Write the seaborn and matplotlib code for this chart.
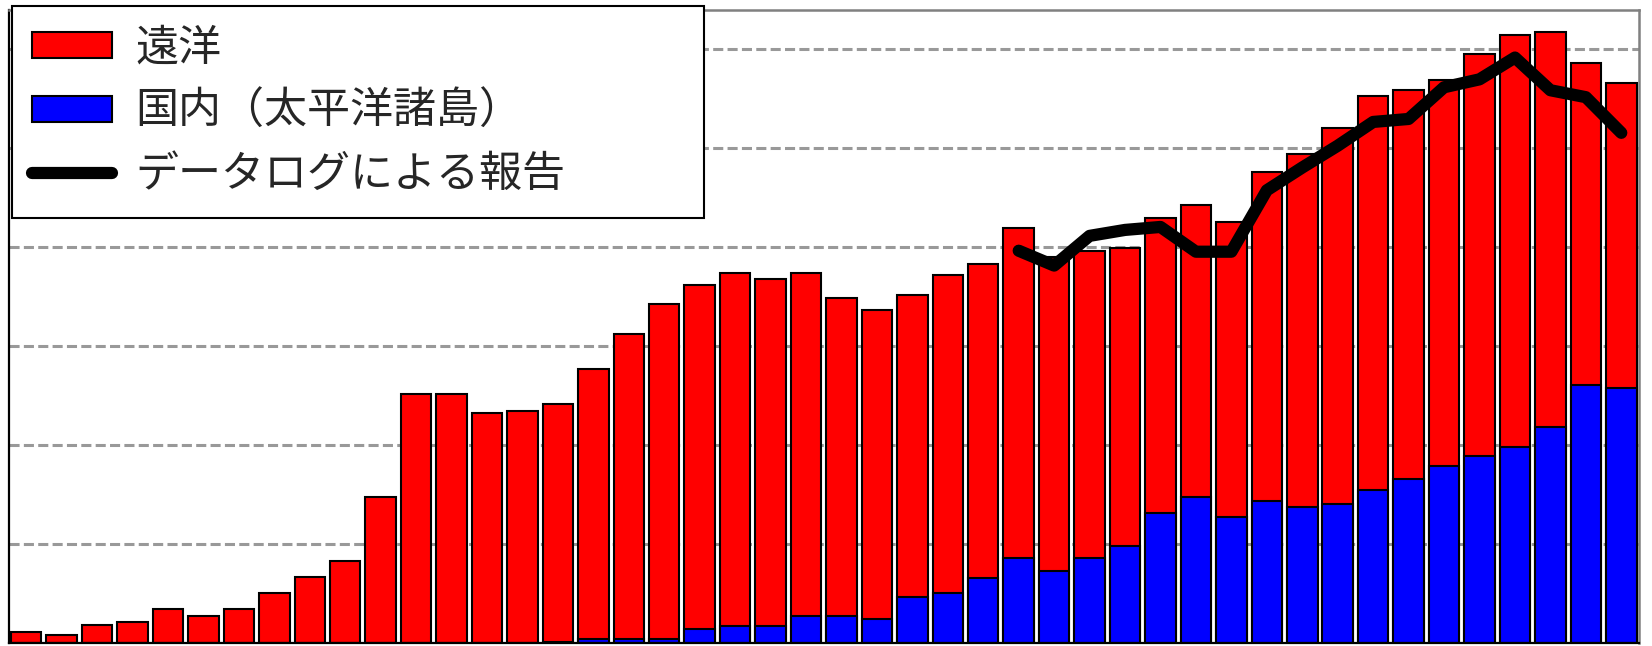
import numpy as np
import pandas as pd
import matplotlib
matplotlib.use("Agg")
import matplotlib.pyplot as plt
import seaborn as sns
from matplotlib.patches import Patch
from matplotlib.lines import Line2D

# data (no axis labels in the original)
periods = list(range(46))
total_catch = [0.11, 0.08, 0.18, 0.215, 0.34, 0.27, 0.34, 0.505, 0.67, 0.825,
               1.47, 2.51, 2.51, 2.32, 2.34, 2.41, 2.77, 3.12, 3.42, 3.61,
               3.74, 3.67, 3.74, 3.48, 3.36, 3.51, 3.71, 3.83, 4.19, 3.90,
               3.96, 3.99, 4.29, 4.42, 4.25, 4.75, 4.94, 5.20, 5.52, 5.58,
               5.68, 5.95, 6.14, 6.17, 5.85, 5.65]
domestic_catch = [0, 0, 0, 0, 0, 0, 0, 0, 0, 0,
                  0, 0, 0, 0, 0, 0.01, 0.04, 0.04, 0.04, 0.14,
                  0.17, 0.17, 0.27, 0.27, 0.24, 0.46, 0.50, 0.66, 0.86, 0.73,
                  0.86, 0.98, 1.31, 1.47, 1.27, 1.43, 1.37, 1.40, 1.54, 1.66,
                  1.79, 1.89, 1.98, 2.18, 2.60, 2.57]
logbook_pos = list(range(28, 46))
logbook_vals = [3.96, 3.81, 4.11, 4.17, 4.20, 3.95, 3.95, 4.57, 4.80, 5.02,
                5.26, 5.29, 5.61, 5.69, 5.91, 5.58, 5.51, 5.15]
grid_levels = [1, 2, 3, 4, 5, 6]

labels = ["遠洋", "国内（太平洋諸島）", "データログによる報告"]

df = pd.DataFrame({"period": periods, "total": total_catch, "domestic": domestic_catch})

sns.set_style("white")
plt.rcParams["font.family"] = ["Noto Sans CJK JP", "DejaVu Sans"]

W, H = 1652, 646
fig = plt.figure(figsize=(W / 100, H / 100), dpi=100)
ax = fig.add_axes([8.5 / W, 3 / H, (1639 - 8.5) / W, (643 - 10) / H])

sns.barplot(data=df, x="period", y="total", color="#ff0000", saturation=1,
            edgecolor="black", linewidth=1.5, width=0.86, ax=ax)
sns.barplot(data=df, x="period", y="domestic", color="#0000ff", saturation=1,
            edgecolor="black", linewidth=1.5, width=0.86, ax=ax)
sns.lineplot(x=logbook_pos, y=logbook_vals, color="black", linewidth=8.8,
             solid_capstyle="round", solid_joinstyle="round", ax=ax, zorder=5)

ax.set_xlim(-0.5, 45.5)
ax.set_ylim(0, 6.39)
ax.set_yticks(grid_levels)
ax.set_xticks([])
ax.tick_params(left=False, labelleft=False, bottom=False, labelbottom=False)
ax.set_xlabel("")
ax.set_ylabel("")
ax.set_axisbelow(True)
ax.yaxis.grid(True, color="#999999", linewidth=2.2, linestyle=(0, (3.3, 1.4)))
ax.xaxis.grid(False)

for side in ["left", "bottom"]:
    ax.spines[side].set_color("black")
    ax.spines[side].set_linewidth(1.6)
for side in ["top", "right"]:
    ax.spines[side].set_color("#808080")
    ax.spines[side].set_linewidth(1.8)

handles = [
    Patch(facecolor="#ff0000", edgecolor="black", linewidth=1.5),
    Patch(facecolor="#0000ff", edgecolor="black", linewidth=1.5),
    Line2D([0], [0], color="black", linewidth=8.8, solid_capstyle="round"),
]
leg = ax.legend(handles, labels, loc="upper left", mode="expand",
                bbox_to_anchor=(11.5 / W, 0, (704 - 11.5) / W, 1 - 6 / H),
                bbox_transform=fig.transFigure, borderaxespad=0,
                fontsize=31, handlelength=1.85, handleheight=0.55,
                handletextpad=0.55, labelspacing=0.45, borderpad=0.48,
                frameon=True, fancybox=False, framealpha=1)
leg.get_frame().set_edgecolor("black")
leg.get_frame().set_linewidth(1.5)
leg.set_zorder(10)

fig.savefig("out.png", dpi=100)
